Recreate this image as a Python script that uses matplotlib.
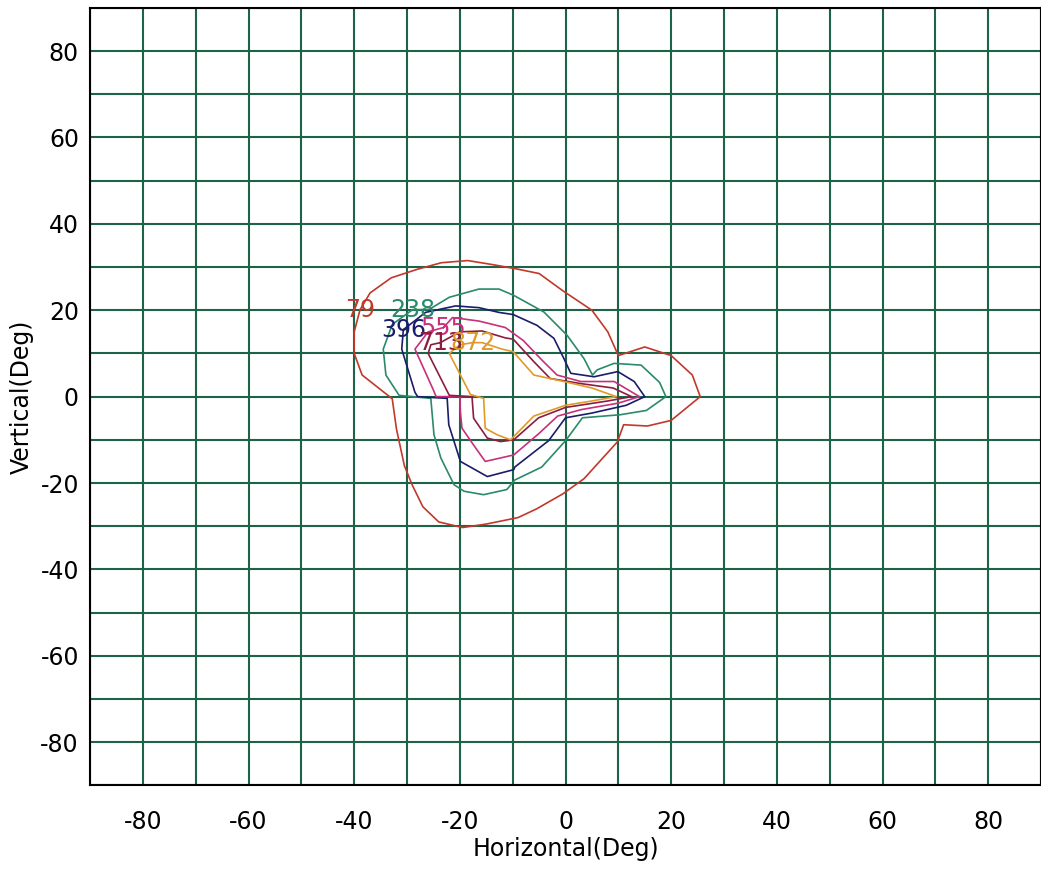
import matplotlib
matplotlib.use("Agg")
import matplotlib.pyplot as plt

plt.rcParams['axes.unicode_minus'] = False

# contour levels and colours
levels = [79, 238, 396, 555, 713, 872]
colors = ['#c0392b', '#2a8a6a', '#1c1c6c', '#c8307a', '#8b1e3f', '#e09a2a']

# contour outlines (deg), first point = label position
c79_x = [-38.9, -37, -33, -28, -23.5, -18.5, -13.5, -9, -5, -0.5, 5, 8, 10, 15, 20, 24, 25.5,
         20, 15.5, 11, 9.8, 3.5, -0.5, -5.5, -9, -15, -19.5, -24, -27, -29, -30.5, -32, -32.8,
         -38.5, -40, -40]
c79_y = [20.1, 24, 27.5, 29.5, 31, 31.5, 30.5, 29.5, 28.5, 24.5, 20, 15, 9.5, 11.5, 9.5, 5, 0,
         -5.5, -6.8, -6.5, -10.5, -19, -22.5, -26, -28, -29.5, -30.3, -29, -25.5, -20.5, -16, -7.5, -0.5,
         5, 10, 15]

c238_x = [-29, -25.8, -22, -16.4, -12.6, -9.9, -4.1, 0.3, 3.5, 5.1, 6, 9.2, 14.3, 17.8, 19,
          15.3, 10.3, 3.2, 0, -4.5, -9.6, -11.1, -15.5, -19.2, -21.1, -23.6, -24.9, -25.5,
          -31.5, -34, -34.5, -32.8]
c238_y = [20.1, 20.2, 23, 24.9, 24.9, 23.5, 19.6, 14.2, 8.8, 5, 6.2, 7.7, 7.3, 3.3, 0,
          -3.2, -4.2, -4.9, -10.2, -16.3, -19.3, -21.5, -22.7, -21.9, -20.4, -14.2, -8.8, -0.4,
          0.3, 5, 11, 16.7]

c396_x = [-30.7, -26.5, -20.8, -16.4, -12.6, -9.9, -5.4, -2.2, -0.3, 1, 5.4, 9.9, 13, 15,
          11.5, 5, 0, -3.2, -9.6, -9.8, -14.8, -19.9, -22.1, -22.4, -28, -28.5, -31]
c396_y = [15.5, 19.5, 21, 20.6, 19.5, 19, 16.5, 13.5, 8.8, 5.4, 4.6, 5.8, 3.5, 0,
          -2, -3.8, -4.9, -10.2, -16.3, -16.9, -18.5, -15, -6.5, -0.4, 0, 1, 11]

c555_x = [-23.1, -21.4, -16.4, -11.4, -8, -4.5, -1.6, 2.9, 9.2, 14, 10, 3, -1.5, -5, -9.8,
          -15.2, -17.4, -19.6, -19.9, -20, -24.5, -25, -28.5, -26]
c555_y = [16, 18.3, 17.5, 16, 13, 8.5, 5, 3.5, 3.5, 0, -1.5, -3, -4.5, -8.5, -13.5,
          -15, -11.2, -7.3, -3.5, 0, 0, 1.5, 11, 15]

c713_x = [-23.7, -20, -15.8, -11.4, -9.9, -6, -2.9, 3, 9, 12.5, 8, 0, -5.1, -9.8, -12.3,
          -14.8, -17.4, -17.7, -22, -26, -25.5]
c713_y = [12.5, 15, 15.2, 13.6, 13.3, 8.1, 4.2, 3, 2, 0, -1, -2.5, -4.9, -10, -10.4,
          -9.6, -5, 0, 0.3, 10, 12]

c872_x = [-17.6, -15.8, -12, -9.9, -6, -0.3, 5, 9.6, 5, 0, -6, -10.4, -13, -15.2, -15.5,
          -18, -22, -20]
c872_y = [12.5, 12.5, 11, 10.4, 5, 3.5, 2, 0, -1, -2, -4.5, -10, -8.8, -7.3, -0.4,
          0.5, 10, 12]

xs = [c79_x, c238_x, c396_x, c555_x, c713_x, c872_x]
ys = [c79_y, c238_y, c396_y, c555_y, c713_y, c872_y]

ticks = [-80, -60, -40, -20, 0, 20, 40, 60, 80]
grid = list(range(-90, 91, 10))

fig = plt.figure(figsize=(10.41, 8.82), dpi=100)
ax = fig.add_axes([0.0865, 0.1095, 0.9135, 0.8816])

for g in grid:
    ax.axvline(g, color='#1b6448', lw=1.5, zorder=1)
    ax.axhline(g, color='#1b6448', lw=1.5, zorder=1)

for lev, col, x, y in zip(levels, colors, xs, ys):
    ax.plot(x + [x[0]], y + [y[0]], color=col, lw=1.2, zorder=3)
    ax.text(x[0], y[0], str(lev), color=col, fontsize=17, ha='center', va='center', zorder=4)

ax.set_xlim(-90, 90)
ax.set_ylim(-90, 90)
ax.set_xticks(ticks)
ax.set_yticks(ticks)
ax.tick_params(length=0, labelsize=17)
ax.tick_params(axis='x', pad=18)
ax.tick_params(axis='y', pad=8)
for s in ax.spines.values():
    s.set_linewidth(1.5)
    s.set_color('black')
ax.set_xlabel('Horizontal(Deg)', fontsize=17, labelpad=2)
ax.set_ylabel('Vertical(Deg)', fontsize=17, labelpad=5)

fig.savefig('out.png', dpi=100)
